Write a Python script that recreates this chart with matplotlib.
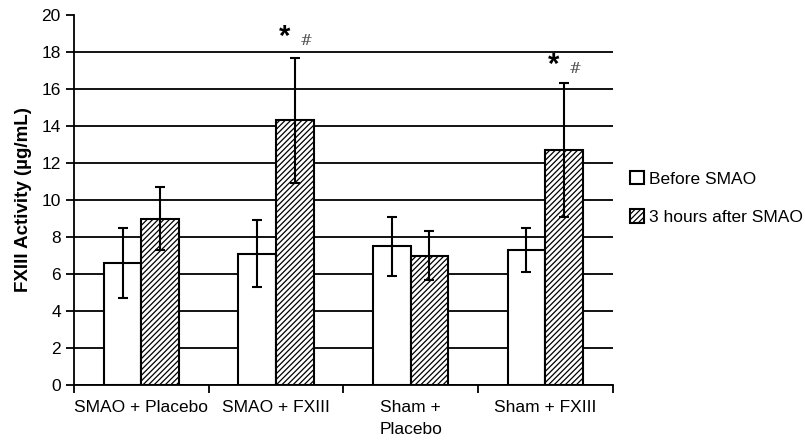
import matplotlib
matplotlib.use("Agg")
import matplotlib.pyplot as plt
import numpy as np

# values
groups = ["SMAO + Placebo", "SMAO + FXIII", "Sham +\nPlacebo", "Sham + FXIII"]
before_mean = [6.6, 7.1, 7.5, 7.3]
before_err = [1.9, 1.8, 1.6, 1.2]
after_mean = [9.0, 14.3, 7.0, 12.7]
after_err = [1.7, 3.4, 1.35, 3.6]
star_groups = [1, 3]
star_y = [18.8, 17.3]

plt.rcParams['font.family'] = ['Liberation Sans', 'DejaVu Sans']
plt.rcParams['hatch.linewidth'] = 0.9

fig = plt.figure(figsize=(8.05, 4.43), dpi=100)
ax = fig.add_axes([0.092, 0.131, 0.669, 0.835])

x = np.arange(len(groups))
w = 0.28
ekw = dict(ecolor='black', elinewidth=1.5, capsize=3.5, capthick=1.5)

ax.bar(x - w / 2, before_mean, w, yerr=before_err, color='white',
       edgecolor='black', linewidth=1.5, error_kw=ekw, zorder=3,
       label='Before SMAO')
ax.bar(x + w / 2, after_mean, w, yerr=after_err, color='white',
       edgecolor='black', linewidth=1.5, hatch='//////', error_kw=ekw,
       zorder=3, label='3 hours after SMAO')

for g, yy in zip(star_groups, star_y):
    ax.text(g + w / 2 - 0.075, yy, '*', ha='center', va='center',
            fontsize=21, fontweight='bold', zorder=4)
    ax.text(g + w / 2 + 0.085, yy - 0.2, '#', ha='center', va='center',
            fontsize=11, color='#555555', family='DejaVu Serif',
            style='italic', fontweight='light', zorder=4)

ax.set_xlim(-0.5, len(groups) - 0.5)
ax.set_ylim(0, 20)
ax.set_yticks(np.arange(0, 21, 2))
ax.yaxis.grid(True, color='black', linewidth=1.3, zorder=0)
ax.set_axisbelow(True)
ax.yaxis.get_gridlines()[-1].set_visible(False)

ax.set_xticks(np.arange(len(groups) + 1) - 0.5)
ax.set_xticklabels([])
ax.set_xticks(x, minor=True)
ax.set_xticklabels(groups, minor=True, fontsize=12.5, linespacing=1.6)
ax.tick_params(axis='x', which='minor', length=0, pad=11)
ax.tick_params(axis='x', which='major', length=6, width=1.3)
ax.tick_params(axis='y', length=6, width=1.3, labelsize=12.5)

for s in ['top', 'right']:
    ax.spines[s].set_visible(False)
for s in ['left', 'bottom']:
    ax.spines[s].set_linewidth(1.3)

ax.set_ylabel('FXIII Activity (µg/mL)', fontsize=13.5, fontweight='bold',
              labelpad=7)

fig.legend(loc='center left', bbox_to_anchor=(0.783, 0.553), frameon=False,
           fontsize=12.5, handlelength=0.8, handleheight=0.8,
           handletextpad=0.3, labelspacing=1.3, borderaxespad=0,
           borderpad=0)

fig.savefig('out.png', dpi=100)
